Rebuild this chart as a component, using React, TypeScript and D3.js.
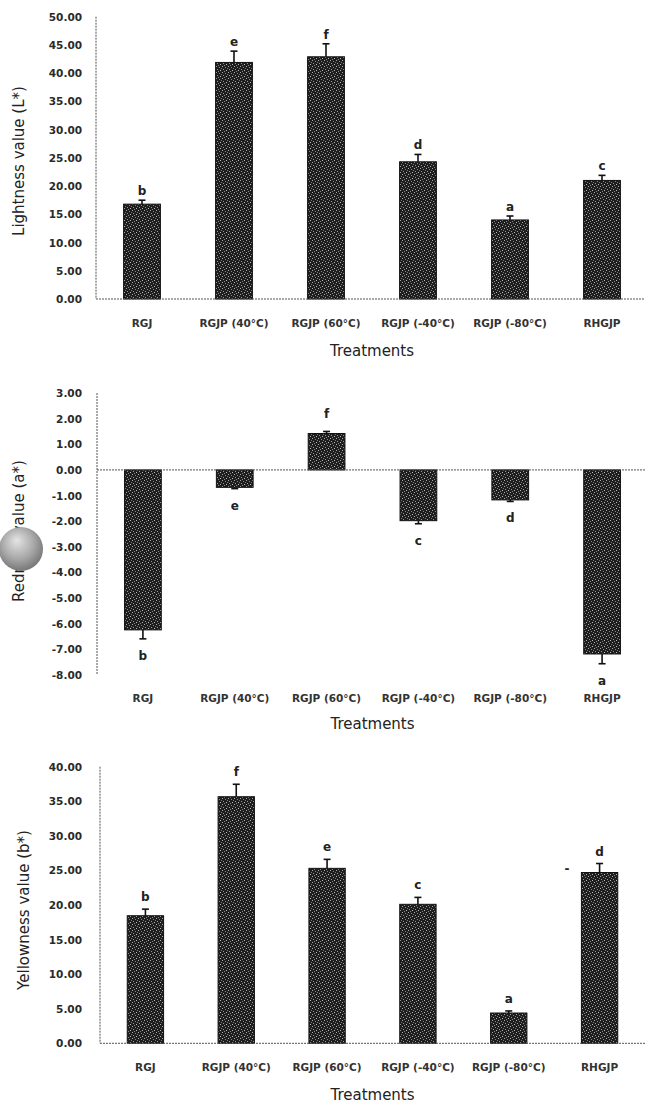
import * as d3 from 'd3';

const categories = ['RGJ', 'RGJP (40°C)', 'RGJP (60°C)', 'RGJP (-40°C)', 'RGJP (-80°C)', 'RHGJP'];

const lightness = [16.8, 41.9, 42.9, 24.3, 14.0, 21.0];
const lightnessErr = [0.7, 2.0, 2.3, 1.3, 0.7, 0.9];
const lightnessLetters = ['b', 'e', 'f', 'd', 'a', 'c'];
const lightnessTicks = [0, 5, 10, 15, 20, 25, 30, 35, 40, 45, 50];

const redness = [-6.24, -0.68, 1.42, -1.98, -1.17, -7.18];
const rednessErr = [0.35, 0.05, 0.08, 0.12, 0.06, 0.38];
const rednessLetters = ['b', 'e', 'f', 'c', 'd', 'a'];
const rednessTicks = [3, 2, 1, 0, -1, -2, -3, -4, -5, -6, -7, -8];

const yellowness = [18.45, 35.66, 25.3, 20.1, 4.38, 24.7];
const yellownessErr = [0.95, 1.8, 1.3, 1.0, 0.3, 1.3];
const yellownessLetters = ['b', 'f', 'e', 'c', 'a', 'd'];
const yellownessTicks = [0, 5, 10, 15, 20, 25, 30, 35, 40];

const FONT = '"DejaVu Sans", Verdana, sans-serif';

type PanelProps = {
  values: number[];
  errs: number[];
  letters: string[];
  ticks: number[];
  domain: [number, number];
  yLabel: string;
  top: number;
  bottom: number;
  left: number;
  right: number;
  catY: number;
  titleY: number;
  labelX: number;
  labelY: number;
  letterGap: number;
};

function Panel(p: PanelProps) {
  const x = d3.scaleBand<string>().domain(categories).range([p.left, p.right]).paddingInner(0.6).paddingOuter(0.3);
  const y = d3.scaleLinear().domain(p.domain).range([p.bottom, p.top]);
  const y0 = y(0);
  const bw = x.bandwidth();
  const mid = (p.left + p.right) / 2;

  return (
    <g>
      {/* y axis */}
      <line x1={p.left} x2={p.left} y1={y(p.domain[1])} y2={y(p.domain[0])}
        stroke="#555" strokeWidth={1} strokeDasharray="2 1" />
      {p.ticks.map((t) => (
        <text key={t} x={82} y={y(t) + 4} textAnchor="end" fontSize={10.5} fontWeight="bold"
          fontFamily={FONT} fill="#2a2a2a">
          {t.toFixed(2)}
        </text>
      ))}
      {/* bars */}
      {p.values.map((v, i) => {
        const cx = x(categories[i])! + bw / 2;
        const yTop = Math.min(y(v), y0);
        const h = Math.abs(y(v) - y0);
        const end = v >= 0 ? y(v + p.errs[i]) : y(v - p.errs[i]);
        const letterY = v >= 0 ? end - p.letterGap + 4 : end + p.letterGap + 4;
        return (
          <g key={categories[i]}>
            <rect x={x(categories[i])} y={yTop} width={bw} height={h} fill="url(#stipple)" stroke="#111" strokeWidth={1} />
            <line x1={cx} x2={cx} y1={y(v)} y2={end} stroke="#111" strokeWidth={1.6} />
            <line x1={cx - 3.5} x2={cx + 3.5} y1={end} y2={end} stroke="#111" strokeWidth={1.6} />
            <text x={cx} y={letterY} textAnchor="middle" fontSize={12} fontWeight="bold" fontFamily={FONT} fill="#222">
              {p.letters[i]}
            </text>
          </g>
        );
      })}
      {/* x axis at zero */}
      <line x1={p.left} x2={645} y1={y0} y2={y0} stroke="#555" strokeWidth={1} strokeDasharray="2 1" />
      {categories.map((c) => (
        <text key={c} x={x(c)! + bw / 2} y={p.catY} textAnchor="middle" fontSize={10.5} fontWeight="bold"
          fontFamily={FONT} fill="#333">
          {c}
        </text>
      ))}
      <text x={mid} y={p.titleY} textAnchor="middle" fontSize={15} fontFamily={FONT} fill="#222">Treatments</text>
      <text transform={`translate(${p.labelX},${p.labelY}) rotate(-90)`} textAnchor="middle" fontSize={15}
        fontFamily={FONT} fill="#222">
        {p.yLabel}
      </text>
    </g>
  );
}

export default function App() {
  return (
    <svg width={645} height={1104} style={{ position: 'absolute', left: 0, top: 0, background: '#fff' }}>
      <defs>
        <pattern id="stipple" width={6} height={6} patternUnits="userSpaceOnUse">
          <rect width={6} height={6} fill="#1e1e1e" />
          <rect x={0} y={0} width={1} height={1} fill="#aaa" />
          <rect x={3} y={1} width={1} height={1} fill="#888" />
          <rect x={1} y={3} width={1} height={1} fill="#999" />
          <rect x={4} y={4} width={1} height={1} fill="#bbb" />
          <rect x={5} y={2} width={1} height={1} fill="#777" />
          <rect x={2} y={5} width={1} height={1} fill="#888" />
        </pattern>
        <radialGradient id="ball" cx="45%" cy="40%" r="60%" fx="40%" fy="30%">
          <stop offset="0%" stopColor="#e4e4e4" />
          <stop offset="60%" stopColor="#a9a9a9" />
          <stop offset="100%" stopColor="#777" />
        </radialGradient>
      </defs>
      <rect width={645} height={1104} fill="#fff" />
      <Panel values={lightness} errs={lightnessErr} letters={lightnessLetters} ticks={lightnessTicks}
        domain={[0, 50]} yLabel="Lightness value (L*)" top={16.7} bottom={299} left={96} right={648}
        catY={327} titleY={356} labelX={24} labelY={161} letterGap={9} />
      <Panel values={redness} errs={rednessErr} letters={rednessLetters} ticks={rednessTicks}
        domain={[-8, 3]} yLabel="Redness value (a*)" top={393} bottom={675} left={97} right={648}
        catY={702} titleY={729} labelX={24} labelY={531} letterGap={17} />
      <Panel values={yellowness} errs={yellownessErr} letters={yellownessLetters} ticks={yellownessTicks}
        domain={[0, 40]} yLabel="Yellowness value (b*)" top={766.7} bottom={1043.3} left={100} right={645}
        catY={1071} titleY={1100} labelX={29} labelY={910} letterGap={12} />
      <circle cx={21} cy={549} r={22} fill="url(#ball)" />
      <text x={567} y={873} textAnchor="middle" fontSize={12} fontWeight="bold" fontFamily={FONT} fill="#222">-</text>
    </svg>
  );
}
